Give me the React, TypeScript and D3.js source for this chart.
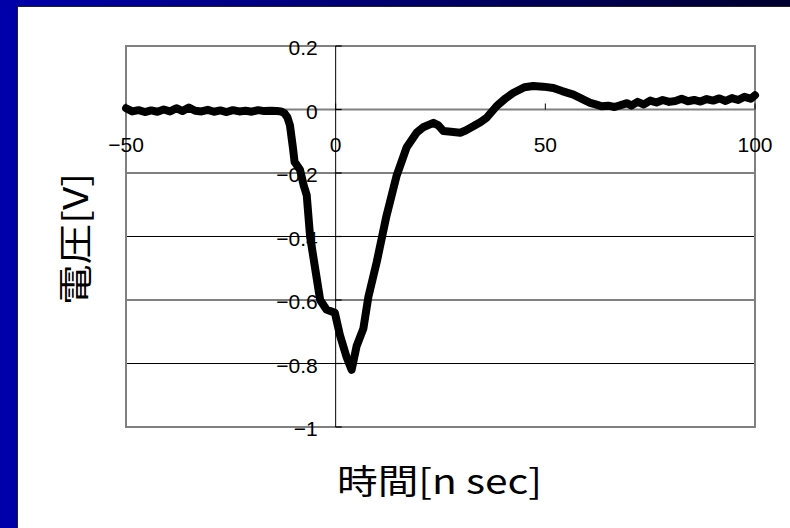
import * as d3 from "d3";

// waveform: time [ns] and voltage [V]
const timeNs = [
  -50, -48.5, -47, -45.5, -44, -42.5, -41, -39.5, -38, -36.5, -35, -33.5, -32, -30.5,
  -29, -27.5, -26, -24.5, -23, -21.5, -20, -18.5, -17, -15.5, -14, -13, -12.2, -11.5,
  -10.9, -10.2, -9.8, -8.5, -7.6, -6.9, -6.1, -4.9, -3.7, -2.2, -0.2, 1.0, 2.6, 3.8,
  5.0, 6.6, 7.8, 9.8, 12.1, 14.5, 16.9, 19.3, 21, 23.3, 24.5, 25.7, 27.5, 29.7, 31,
  32.8, 34.5, 36.0, 38.4, 40.5, 42.3, 45, 47.1, 49.5, 51.9, 54, 56.7, 58.5, 60.7, 62,
  63.5, 65, 66.5, 68, 69.5, 70.5, 72, 73.5, 75, 76.5, 78, 79.5, 81, 82.5, 84, 85.5,
  87, 88.5, 90, 91.5, 93, 94.5, 96, 97.5, 99, 100,
];
const voltage = [
  0.004, -0.006, -0.002, -0.008, -0.003, -0.007, 0.0, -0.006, 0.004, -0.005, 0.006,
  -0.004, -0.006, -0.001, -0.007, -0.003, -0.008, -0.002, -0.006, -0.004, -0.007,
  -0.002, -0.005, -0.004, -0.005, -0.006, -0.012, -0.025, -0.05, -0.12, -0.165, -0.19,
  -0.24, -0.27, -0.4, -0.5, -0.6, -0.63, -0.64, -0.71, -0.78, -0.82, -0.745, -0.69,
  -0.59, -0.48, -0.336, -0.21, -0.12, -0.073, -0.055, -0.042, -0.05, -0.068, -0.07,
  -0.073, -0.066, -0.053, -0.04, -0.026, 0.011, 0.035, 0.052, 0.07, 0.074, 0.072,
  0.068, 0.058, 0.047, 0.035, 0.021, 0.016, 0.01, 0.012, 0.008, 0.014, 0.02, 0.012,
  0.024, 0.016, 0.028, 0.022, 0.03, 0.024, 0.027, 0.034, 0.026, 0.03, 0.025, 0.033,
  0.028, 0.035, 0.027, 0.036, 0.03, 0.04, 0.034, 0.045,
];

const xTicks = [-50, 0, 50, 100];
const yTicks = [0.2, 0, -0.2, -0.4, -0.6, -0.8, -1];

const fmt = (v: number) => (v < 0 ? "\u2212" + String(Math.abs(v)) : String(v));

export default function App() {
  const W = 790;
  const H = 528;
  const x = d3.scaleLinear().domain([-50, 100]).range([126, 755]);
  const y = d3.scaleLinear().domain([-1, 0.2]).range([427, 46]);

  const pts = timeNs.map((t, i) => [t, voltage[i]] as [number, number]);
  const line = d3
    .line<[number, number]>()
    .x((d) => x(d[0]))
    .y((d) => y(d[1]));

  const x0 = x(0);
  const y0 = y(0);

  return (
    <svg
      width={W}
      height={H}
      style={{ position: "fixed", left: 0, top: 0, background: "#fff" }}
    >
      <defs>
        <linearGradient id="topband" x1="0" x2="1" y1="0" y2="0">
          <stop offset="0" stopColor="#0000aa" />
          <stop offset="1" stopColor="#000030" />
        </linearGradient>
      </defs>
      {/* slide frame */}
      <rect x={0} y={0} width={W} height={H} fill="#fff" />
      <rect x={0} y={0} width={17} height={H} fill="#0000aa" />
      <rect x={0} y={0} width={W} height={6} fill="url(#topband)" />
      <line x1={17.5} x2={17.5} y1={6} y2={H} stroke="#222" strokeWidth={1} />
      <line x1={17} x2={W} y1={6.5} y2={6.5} stroke="#222" strokeWidth={1} />

      {/* gridlines */}
      {yTicks.map((v) => (
        <line key={v} x1={x(-50)} x2={x(100)} y1={y(v)} y2={y(v)} stroke="#000" strokeWidth={1} />
      ))}
      <rect
        x={x(-50)}
        y={y(0.2)}
        width={x(100) - x(-50)}
        height={y(-1) - y(0.2)}
        fill="none"
        stroke="#808080"
        strokeWidth={2}
      />
      <line x1={x(-50)} x2={x(100)} y1={y0} y2={y0} stroke="#808080" strokeWidth={2} />

      {/* y axis at t = 0 */}
      <line x1={x0} x2={x0} y1={y(0.2)} y2={y(-1)} stroke="#000" strokeWidth={1} />
      {yTicks.map((v) => (
        <line key={"t" + v} x1={x0} x2={x0 + 6} y1={y(v)} y2={y(v)} stroke="#000" strokeWidth={1.2} />
      ))}
      {xTicks.map((t) => (
        <line key={"xt" + t} x1={x(t)} x2={x(t)} y1={y0} y2={y0 - 6} stroke="#000" strokeWidth={1} />
      ))}

      {/* tick labels */}
      <g fontFamily="'Liberation Sans', Arial, sans-serif" fontSize={21} fill="#000">
        {yTicks.map((v) => (
          <text key={"yl" + v} x={x0 - 18} y={y(v) + 9} textAnchor="end">
            {fmt(v)}
          </text>
        ))}
        {xTicks.map((t) => (
          <text key={"xl" + t} x={x(t)} y={152} textAnchor="middle">
            {fmt(t)}
          </text>
        ))}
      </g>

      {/* waveform */}
      <path
        d={line(pts) ?? ""}
        fill="none"
        stroke="#000"
        strokeWidth={8}
        strokeLinejoin="round"
        strokeLinecap="round"
      />

      {/* axis titles */}
      <g fontFamily="'Noto Sans CJK JP', sans-serif" fontSize={34} fill="#000">
        <text x={337} y={494} textLength={205} lengthAdjust="spacingAndGlyphs">
          時間[n sec]
        </text>
        <text
          transform="translate(88,239) rotate(-90)"
          textAnchor="middle"
          textLength={132}
          lengthAdjust="spacingAndGlyphs"
        >
          電圧[V]
        </text>
      </g>
    </svg>
  );
}
